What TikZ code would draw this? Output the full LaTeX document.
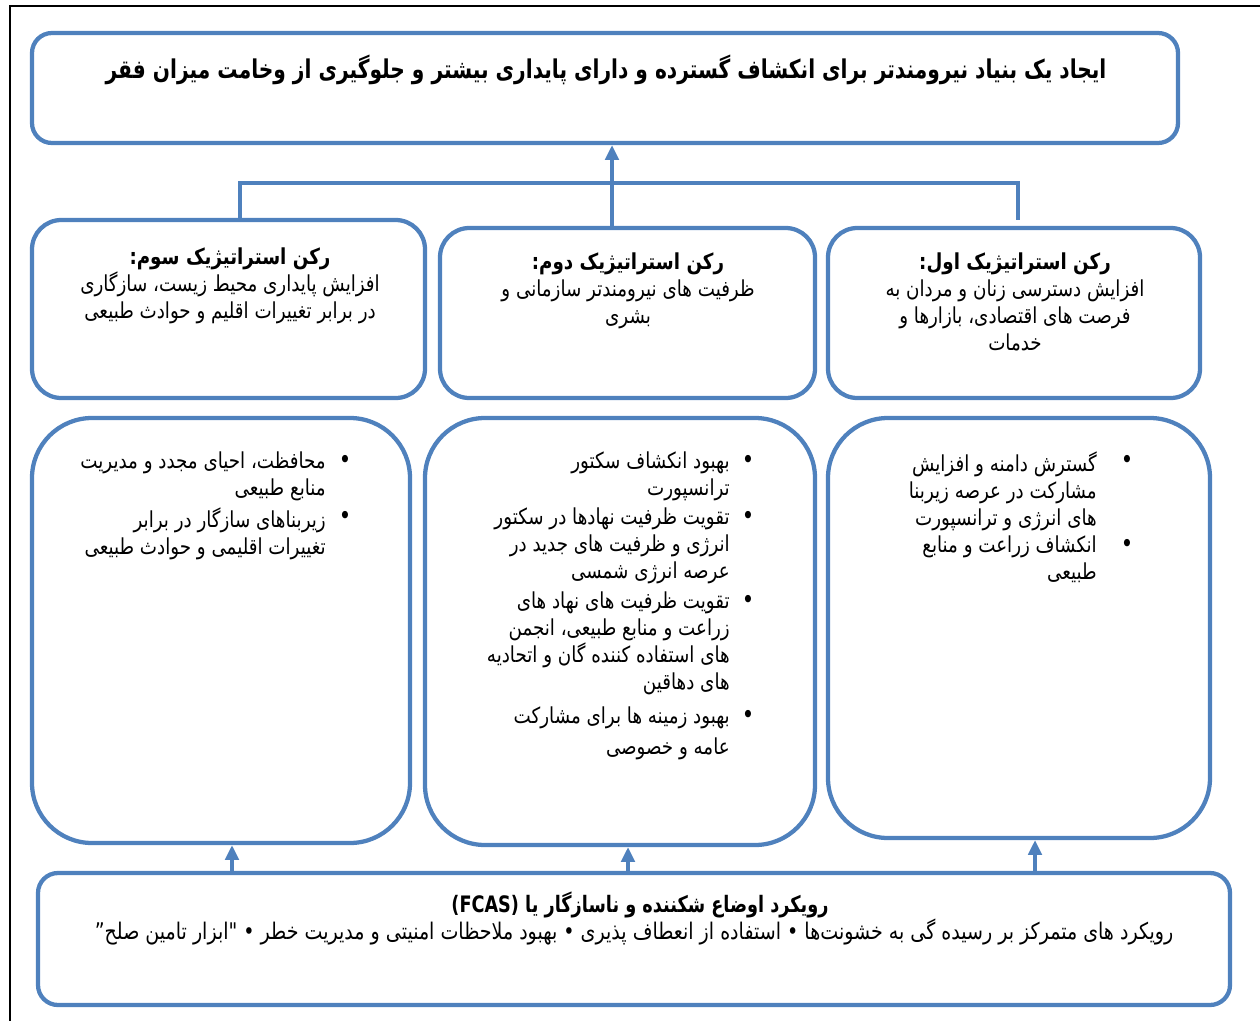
\documentclass[tikz,border=0pt]{standalone}
\usepackage{fontspec}
\usetikzlibrary{arrows.meta,fit}
\TeXXeTstate=1
\newfontfamily\ar[Script=Arabic,FakeStretch=0.83]{DejaVu Sans}
\newfontfamily\art[Script=Arabic,FakeStretch=0.78]{DejaVu Sans}
\newcommand\rl[1]{\beginR#1\endR}
\definecolor{ob}{HTML}{4F81BD}
\begin{document}
\begin{tikzpicture}[x=0.75pt,y=-0.75pt,
  box/.style={draw=ob,line width=3.2pt,inner sep=0pt},
  conn/.style={draw=ob,line width=3pt},
  arr/.style={conn,-{Triangle[width=10pt,length=11pt]}},
  txt/.style={font=\ar\fontsize{16.5}{20.25}\selectfont,inner sep=0pt},
  bul/.style={font=\ar\fontsize{19}{20}\selectfont,inner sep=0pt}]
\useasboundingbox (0,0) rectangle (1260,1021);
\draw[line width=1.5pt] (1260,6) -- (10,6) -- (10,1021);
% boxes
\node[box,rounded corners=15pt,fit={(32,33) (1178,143)}] (top) {};
\node[box,rounded corners=22pt,fit={(32,220) (425,398)}] (b3) {};
\node[box,rounded corners=22pt,fit={(440,228) (815,398)}] (b2) {};
\node[box,rounded corners=22pt,fit={(828,228) (1200,398)}] (b1) {};
\node[box,rounded corners=45pt,fit={(32,418) (410,843)}] (c3) {};
\node[box,rounded corners=45pt,fit={(425,418) (815,845)}] (c2) {};
\node[box,rounded corners=45pt,fit={(828,418) (1210,838)}] (c1) {};
\node[box,rounded corners=15pt,fit={(38,873) (1230,1005)}] (bot) {};
% connectors
\coordinate (jl) at (240,183);
\coordinate (jm) at (612,183);
\coordinate (jr) at (1018,183);
\coordinate (jrend) at (1018,220);
\draw[conn] (jl |- b3.north) -- (jl) -- (jr) -- (jrend);
\draw[arr] (jm |- b2.north) -- (jm |- top.south);
\draw[arr] (bot.north -| 232,0) -- (c3.south -| 232,0);
\draw[arr] (bot.north -| 628,0) -- (c2.south -| 628,0);
\draw[arr] (bot.north -| 1035,0) -- (c1.south -| 1035,0);
% title
\node[txt,font=\art\bfseries\fontsize{19.4}{22}\selectfont] (title) at (606,70)
  {\rl{ایجاد یک بنیاد نیرومندتر برای انکشاف گسترده و دارای پایداری بیشتر و جلوگیری از وخامت میزان فقر}};
% row 2
\node[txt,align=center,anchor=north] (t3) at (230,248)
  {\rl{\bfseries رکن استراتیژیک سوم:}\\\rl{افزایش پایداری محیط زیست، سازگاری}\\\rl{در برابر تغییرات اقلیم و حوادث طبیعی}};
\node[txt,align=center,anchor=north] (t2) at (628,253)
  {\rl{\bfseries رکن استراتیژیک دوم:}\\\rl{ظرفیت های نیرومندتر سازمانی و}\\\rl{بشری}};
\node[txt,align=center,anchor=north] (t1) at (1015,253)
  {\rl{\bfseries رکن استراتیژیک اول:}\\\rl{افزایش دسترسی زنان و مردان به}\\\rl{فرصت های اقتصادی، بازارها و}\\\rl{خدمات}};
% row 3 left
\node[txt,align=right,anchor=north east] (l1) at (326,452)
  {\rl{محافظت، احیای مجدد و مدیریت}\\\rl{منابع طبیعی}};
\node[txt,align=right,anchor=north east] (l2) at (326,508)
  {\rl{زیربناهای سازگار در برابر}\\\rl{تغییرات اقلیمی و حوادث طبیعی}};
\node[bul] (lb1) at (345,462) {•};
\node[bul] (lb2) at (345,518) {•};
% row 3 middle
\node[txt,align=right,anchor=north east] (m1) at (730,452)
  {\rl{بهبود انکشاف سکتور}\\\rl{ترانسپورت}};
\node[txt,align=right,anchor=north east] (m2) at (730,508)
  {\rl{تقویت ظرفیت نهادها در سکتور}\\\rl{انرژی و ظرفیت های جدید در}\\\rl{عرصه انرژی شمسی}};
\node[txt,align=right,anchor=north east] (m3) at (730,592)
  {\rl{تقویت ظرفیت های نهاد های}\\\rl{زراعت و منابع طبیعی، انجمن}\\\rl{های استفاده کننده گان و اتحادیه}\\\rl{های دهاقین}};
\node[txt,align=right,anchor=north east,font=\ar\fontsize{16.5}{23}\selectfont] (m4) at (730,707)
  {\rl{بهبود زمینه ها برای مشارکت}\\\rl{عامه و خصوصی}};
\node[bul] (mb1) at (748,462) {•};
\node[bul] (mb2) at (748,518) {•};
\node[bul] (mb3) at (748,602) {•};
\node[bul] (mb4) at (748,717) {•};
% row 3 right
\node[txt,align=right,anchor=north east] (r1) at (1097,452)
  {\rl{گسترش دامنه و افزایش}\\\rl{مشارکت در عرصه زیربنا}\\\rl{های انرژی و ترانسپورت}};
\node[txt,align=right,anchor=north east] (r2) at (1097,536)
  {\rl{انکشاف زراعت و منابع}\\\rl{طبیعی}};
\node[bul] (rb1) at (1127,462) {•};
\node[bul] (rb2) at (1127,546) {•};
% bottom
\node[txt,font=\art\bfseries\fontsize{17}{20}\selectfont] (bt) at (640,905)
  {\rl{رویکرد اوضاع شکننده و ناسازگار یا \beginL(FCAS)\endL}};
\node[txt,font=\ar\fontsize{17.2}{20}\selectfont] (bl) at (634,932)
  {\rl{رویکرد های متمرکز بر رسیده گی به خشونت‌ها • استفاده از انعطاف پذیری • بهبود ملاحظات امنیتی و مدیریت خطر • "ابزار تامین صلح”}};
\end{tikzpicture}
\end{document}
